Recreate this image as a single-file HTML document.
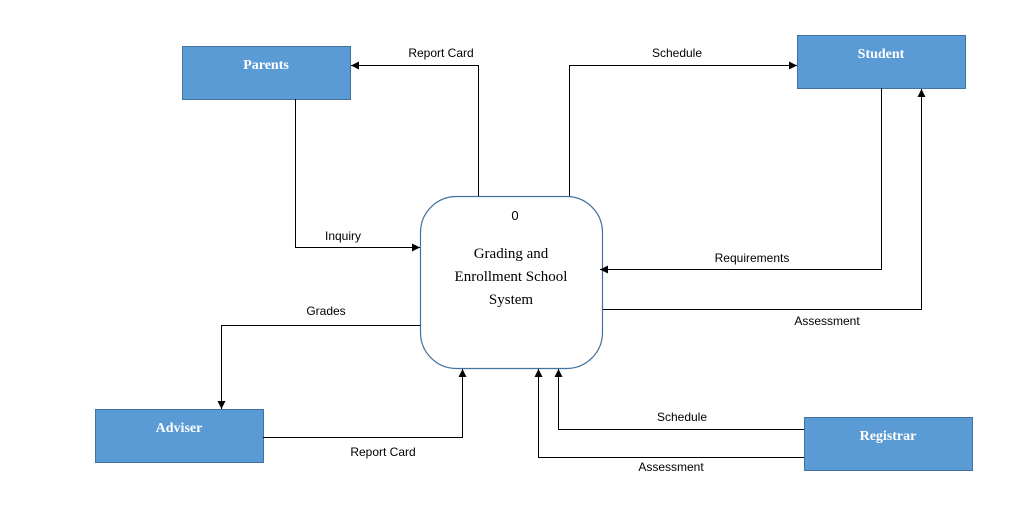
<!DOCTYPE html>
<html><head><meta charset="utf-8"><style>
html,body{margin:0;padding:0;background:#fff;}
svg{display:block;}
.b{fill:#5b9bd5;stroke:#41719c;stroke-width:1;}
.bt{font-family:"Liberation Serif",serif;font-size:14px;font-weight:bold;fill:#fff;text-anchor:middle;}
.l{font-family:"Liberation Sans",sans-serif;font-size:12px;fill:#000;text-anchor:middle;}
.c{fill:none;stroke:#000;stroke-width:1;}
.pt{font-family:"Liberation Serif",serif;font-size:15px;fill:#000;text-anchor:middle;}
</style></head><body>
<svg width="1033" height="531" viewBox="0 0 1033 531" xmlns="http://www.w3.org/2000/svg">
<defs><marker id="a" markerWidth="8" markerHeight="8" refX="8" refY="4" orient="auto" markerUnits="userSpaceOnUse"><path d="M0,0 L8,4 L0,8 z" fill="#000"/></marker></defs>
<rect x="182.5" y="46.5" width="168" height="53" class="b"/>
<text x="266" y="69" class="bt">Parents</text>
<rect x="797.5" y="35.5" width="168" height="53" class="b"/>
<text x="881" y="58" class="bt">Student</text>
<rect x="95.5" y="409.5" width="168" height="53" class="b"/>
<text x="179" y="432" class="bt">Adviser</text>
<rect x="804.5" y="417.5" width="168" height="53" class="b"/>
<text x="888" y="440" class="bt">Registrar</text>
<rect x="420.5" y="196.5" width="182" height="172" rx="36" ry="36" fill="#fff" stroke="#41719c" stroke-width="1.2"/>
<text x="515" y="220" class="l" style="font-size:13px">0</text>
<text x="511" y="258" class="pt">Grading and</text>
<text x="511" y="281" class="pt">Enrollment School</text>
<text x="511" y="304" class="pt">System</text>

<path d="M478.5,196 V65.5 H351" class="c" marker-end="url(#a)"/>
<text x="441" y="57" class="l">Report Card</text>
<path d="M569.5,196 V65.5 H797" class="c" marker-end="url(#a)"/>
<text x="677" y="57" class="l">Schedule</text>
<path d="M295.5,99 V247.5 H420" class="c" marker-end="url(#a)"/>
<text x="343" y="240" class="l">Inquiry</text>
<path d="M881.5,88 V269.5 H600" class="c" marker-end="url(#a)"/>
<text x="752" y="262" class="l">Requirements</text>
<path d="M603,309.5 H921.5 V89" class="c" marker-end="url(#a)"/>
<text x="827" y="325" class="l">Assessment</text>
<path d="M420,325.5 H221.5 V409" class="c" marker-end="url(#a)"/>
<text x="326" y="315" class="l">Grades</text>
<path d="M263,437.5 H462.5 V369" class="c" marker-end="url(#a)"/>
<text x="383" y="456" class="l">Report Card</text>
<path d="M804,429.5 H558.5 V369" class="c" marker-end="url(#a)"/>
<text x="682" y="421" class="l">Schedule</text>
<path d="M804,457.5 H538.5 V369" class="c" marker-end="url(#a)"/>
<text x="671" y="471" class="l">Assessment</text>
</svg>
</body></html>
